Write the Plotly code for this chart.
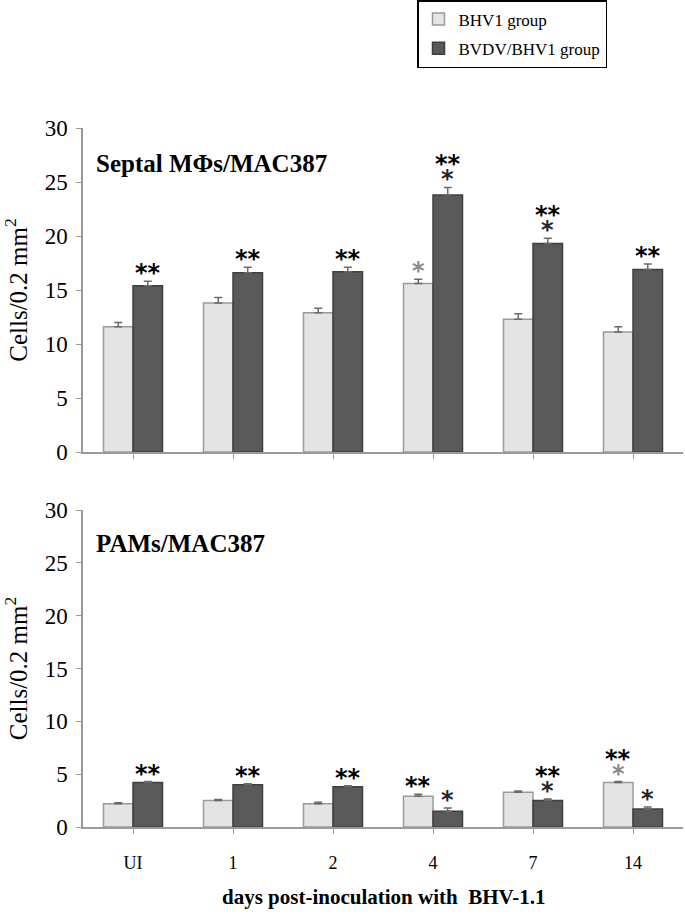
import plotly.graph_objects as go

categories = ["UI", "1", "2", "4", "7", "14"]

# Top panel: Septal MΦs/MAC387
top_bhv1 = [11.6, 13.8, 12.9, 15.6, 12.3, 11.1]
top_bhv1_err = [0.4, 0.5, 0.4, 0.4, 0.5, 0.5]
top_bvdv = [15.4, 16.6, 16.7, 23.8, 19.3, 16.9]
top_bvdv_err = [0.4, 0.5, 0.4, 0.7, 0.5, 0.5]

# Bottom panel: PAMs/MAC387
bot_bhv1 = [2.2, 2.5, 2.2, 2.9, 3.3, 4.2]
bot_bhv1_err = [0.1, 0.1, 0.15, 0.2, 0.1, 0.1]
bot_bvdv = [4.2, 4.0, 3.8, 1.5, 2.5, 1.7]
bot_bvdv_err = [0.1, 0.1, 0.1, 0.3, 0.15, 0.2]

# significance marks, rows listed bottom-to-top separated by "|"
top_bhv1_sig = ["", "", "", "*", "", ""]
top_bvdv_sig = ["**", "**", "**", "*|**", "*|**", "**"]
bot_bhv1_sig = ["", "", "", "**", "", "*|**"]
bot_bvdv_sig = ["**", "**", "**", "*", "*|**", "*"]

series_names = ["BHV1 group", "BVDV/BHV1 group"]
y_ticks = [0, 5, 10, 15, 20, 25, 30]

W, H = 685, 919
ML, MR = 83, 2
PW = W - ML - MR
BARGAP = 0.41
LIGHT_FILL, LIGHT_LINE = "#e4e4e4", "#9a9a9a"
DARK_FILL, DARK_LINE = "#595959", "#3f3f3f"
SERIF = "Liberation Serif, Times New Roman, serif"


def px_x(px):
    return (px - ML) / PW


def px_y(py):
    return 1 - py / H


top_dom = [px_y(452), px_y(128)]
bot_dom = [px_y(827), px_y(510)]

fig = go.Figure()


def add_bars(vals, errs, name, fill, line, xa, ya, show):
    fig.add_trace(go.Bar(
        x=categories, y=vals, name=name, xaxis=xa, yaxis=ya,
        marker=dict(color=fill, line=dict(color=line, width=1.5)),
        error_y=dict(type="data", array=errs, arrayminus=[0] * len(errs),
                     symmetric=False, color="#6a6a6a", thickness=1.5, width=4),
        showlegend=show, legendgroup=name,
    ))


add_bars(top_bhv1, top_bhv1_err, series_names[0], LIGHT_FILL, LIGHT_LINE, "x", "y", True)
add_bars(top_bvdv, top_bvdv_err, series_names[1], DARK_FILL, DARK_LINE, "x", "y", True)
add_bars(bot_bhv1, bot_bhv1_err, series_names[0], LIGHT_FILL, LIGHT_LINE, "x2", "y2", False)
add_bars(bot_bvdv, bot_bvdv_err, series_names[1], DARK_FILL, DARK_LINE, "x2", "y2", False)

px_per_cat = PW / len(categories)
offset = (1 - BARGAP) / 4 * px_per_cat

annotations = []


def add_sig(sigs, vals, errs, side, xref, yref, light):
    for idx, (s, v, e) in enumerate(zip(sigs, vals, errs)):
        if not s:
            continue
        for i, row in enumerate(s.split("|")):
            if row == "**":
                col = "#000000"
            else:
                col = "#8a8a8a" if light else "#262626"
            annotations.append(dict(
                x=idx, y=v + e, xref=xref, yref=yref, text="<b>" + row + "</b>",
                showarrow=False, xanchor="center", yanchor="bottom",
                xshift=side * offset, yshift=-8 + 15 * i,
                font=dict(family="DejaVu Sans", size=24, color=col)))


add_sig(top_bhv1_sig, top_bhv1, top_bhv1_err, -1, "x", "y", True)
add_sig(top_bvdv_sig, top_bvdv, top_bvdv_err, 1, "x", "y", False)
add_sig(bot_bhv1_sig, bot_bhv1, bot_bhv1_err, -1, "x2", "y2", True)
add_sig(bot_bvdv_sig, bot_bvdv, bot_bvdv_err, 1, "x2", "y2", False)

annotations.append(dict(x=px_x(94), y=px_y(163), xref="paper", yref="paper",
                        text="<b>Septal MΦs/MAC387</b>", showarrow=False,
                        xanchor="left", yanchor="middle",
                        font=dict(family=SERIF, size=25, color="black")))
annotations.append(dict(x=px_x(94), y=px_y(543), xref="paper", yref="paper",
                        text="<b>PAMs/MAC387</b>", showarrow=False,
                        xanchor="left", yanchor="middle",
                        font=dict(family=SERIF, size=25, color="black")))
annotations.append(dict(x=0.5, y=px_y(897), xref="paper", yref="paper",
                        text="<b>days post-inoculation with  BHV-1.1</b>", showarrow=False,
                        xanchor="center", yanchor="middle",
                        font=dict(family=SERIF, size=21, color="black")))

axis_common = dict(showline=True, linecolor="#9a9a9a", linewidth=1.5, ticks="outside",
                   tickcolor="#9a9a9a", ticklen=5, showgrid=False, zeroline=False,
                   automargin=False)

ytitle = dict(text="Cells/0.2 mm<sup>2</sup>", font=dict(family=SERIF, size=25, color="black"),
              standoff=10)

fig.update_layout(
    width=W, height=H,
    margin=dict(l=ML, r=MR, t=0, b=0, autoexpand=False),
    paper_bgcolor="white", plot_bgcolor="white",
    barmode="group", bargap=BARGAP, bargroupgap=0,
    showlegend=True,
    legend=dict(x=px_x(417), y=1.0, xanchor="left", yanchor="top",
                bordercolor="black", borderwidth=1.5, bgcolor="white",
                font=dict(family=SERIF, size=17, color="black"),
                tracegroupgap=4, traceorder="grouped", itemwidth=30),
    annotations=annotations,
    xaxis=dict(domain=[0, 1], anchor="y", range=[-0.5, 5.5], showticklabels=False,
               **axis_common),
    yaxis=dict(domain=top_dom, anchor="x", range=[0, 30], tickvals=y_ticks,
               tickfont=dict(family=SERIF, size=23, color="black"), title=ytitle,
               ticklabelstandoff=4, **axis_common),
    xaxis2=dict(domain=[0, 1], anchor="y2", range=[-0.5, 5.5], showticklabels=True,
                tickfont=dict(family=SERIF, size=18, color="black"),
                ticklabelstandoff=14, **axis_common),
    yaxis2=dict(domain=bot_dom, anchor="x2", range=[0, 30], tickvals=y_ticks,
                tickfont=dict(family=SERIF, size=23, color="black"), title=ytitle,
                ticklabelstandoff=4, **axis_common),
)

fig.write_html("out.html", config={"displayModeBar": False},
               post_script="document.body.style.margin='0px';document.body.style.overflow='hidden';")
